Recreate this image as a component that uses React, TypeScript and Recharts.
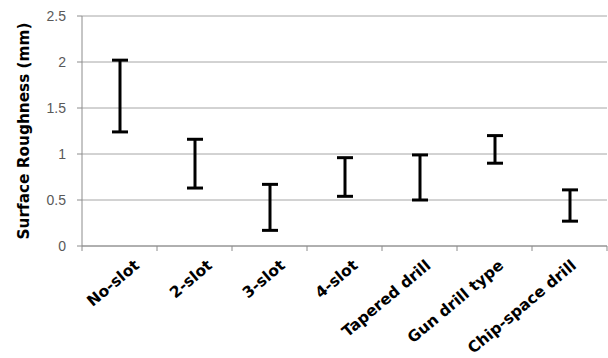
import React from "react";
import { BarChart, Bar, XAxis, YAxis, CartesianGrid } from "recharts";

// surface roughness ranges per drill type (mm)
const categories = [
  "No-slot",
  "2-slot",
  "3-slot",
  "4-slot",
  "Tapered drill",
  "Gun drill type",
  "Chip-space drill",
];
const lowValues = [1.24, 0.63, 0.17, 0.54, 0.5, 0.9, 0.27];
const highValues = [2.02, 1.16, 0.67, 0.96, 0.99, 1.2, 0.61];
const yTicks = [0, 0.5, 1, 1.5, 2, 2.5];

const data = categories.map((name, i) => ({
  name,
  range: [lowValues[i], highValues[i]],
}));

const AXIS = "#8c8c8c";
const GRID = "#a6a6a6";
const LABEL_FONT = "'DejaVu Sans', Verdana, sans-serif";

// I-beam marker: vertical bar from low to high with caps
const IBeam = (props: any) => {
  const { x, y, width, height } = props;
  if (x == null || y == null) return null;
  const cx = x + width / 2;
  return (
    <g stroke="#000" strokeWidth={3} strokeLinecap="butt">
      <line x1={cx} x2={cx} y1={y} y2={y + height} />
      <line x1={x} x2={x + width} y1={y} y2={y} />
      <line x1={x} x2={x + width} y1={y + height} y2={y + height} />
    </g>
  );
};

const XTick = (props: any) => {
  const { x, y, payload, index } = props;
  const half = payload && payload.offset ? payload.offset : 524.5 / 14;
  const label = String(payload.value);
  const dx = 21 - 2.2 * index;
  const isLast = index === categories.length - 1;
  return (
    <g>
      <line x1={x - half} x2={x - half} y1={y} y2={y + 5} stroke={AXIS} />
      {isLast && <line x1={x + half} x2={x + half} y1={y} y2={y + 5} stroke={AXIS} />}
      <text
        transform={`translate(${x + dx}, ${y + 21}) rotate(-40)`}
        textAnchor="end"
        fontFamily={LABEL_FONT}
        fontWeight="bold"
        fontSize={15.5}
        fill="#000"
      >
        {label}
      </text>
    </g>
  );
};

const YTitle = (props: any) => {
  const vb = props.viewBox || { x: 0, y: 16, width: 82, height: 230 };
  const cx = vb.x + 24;
  const cy = vb.y + vb.height / 2;
  return (
    <text
      x={cx}
      y={cy}
      transform={`rotate(-90 ${cx} ${cy})`}
      textAnchor="middle"
      dominantBaseline="central"
      fontFamily={LABEL_FONT}
      fontWeight="bold"
      fontSize={15.3}
      fill="#000"
    >
      Surface Roughness (mm)
    </text>
  );
};

export default function App() {
  return (
    <div style={{ position: "absolute", left: 0, top: 0, background: "#fff" }}>
      <BarChart
        width={608}
        height={358}
        data={data}
        margin={{ top: 16, right: 1, bottom: 0, left: 0 }}
      >
        <CartesianGrid vertical={false} stroke={GRID} />
        <XAxis
          dataKey="name"
          interval={0}
          height={112}
          tickSize={0}
          tickMargin={0}
          axisLine={{ stroke: AXIS }}
          tick={<XTick />}
        />
        <YAxis
          width={82}
          domain={[0, 2.5]}
          ticks={yTicks}
          tickSize={5}
          tickMargin={11}
          axisLine={{ stroke: AXIS }}
          tickLine={{ stroke: AXIS }}
          tick={{ fill: "#595959", fontSize: 14, fontFamily: "'Liberation Sans', Arial, sans-serif" }}
          label={{ content: (p: any) => <YTitle {...p} /> }}
        />
        <Bar dataKey="range" barSize={16} shape={<IBeam />} isAnimationActive={false} />
      </BarChart>
    </div>
  );
}
